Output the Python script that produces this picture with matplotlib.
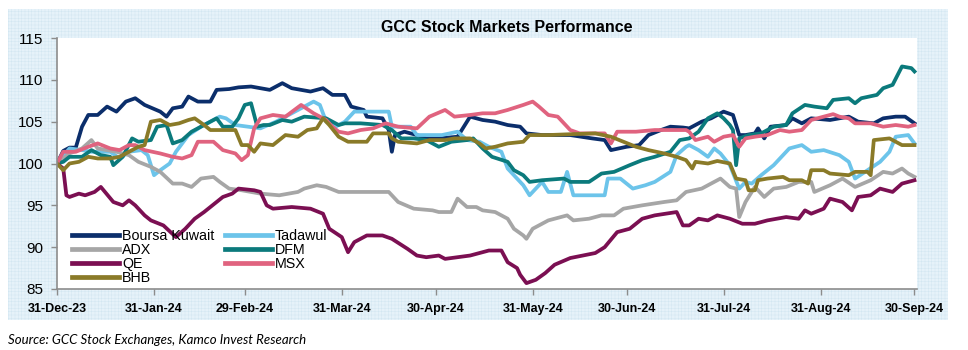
import matplotlib
matplotlib.use("Agg")
import matplotlib.pyplot as plt
import matplotlib.patches as mpatches
import pandas as pd

# ---------------- data (day offsets from 31-Dec-2023, index values) ----------------
bk_days = [0,2,4,6,8,10,13,16,19,22,25,28,33,35,37,40,42,45,49,51,55,58,62,65,68,72,75,81,85,88,92,94,98,99,104,106,107,108,111,115,118,122,128,130,132,136,140,144,148,150,155,164,171,175,177,182,186,189,193,196,200,202,206,209,213,216,218,220,223,224,226,228,233,235,238,241,247,253,256,261,264,268,271,274]
bk_vals = [100,101.5,101.9,101.9,104.4,105.8,105.8,106.8,106.2,107.4,107.8,107.0,106.2,105.6,106.6,106.8,108.0,107.4,107.4,108.8,108.9,109.1,109.2,109.0,108.8,109.6,109.0,108.6,109.0,108.2,108.2,106.8,106.4,105.6,105.4,104.0,101.4,103.4,103.8,103.4,103.0,103.0,103.2,104.4,105.6,105.2,105.0,104.6,104.4,103.6,103.4,103.4,103.0,102.8,101.6,102.0,102.2,103.4,104.0,104.4,104.3,104.2,105.0,105.4,106.2,105.8,103.4,103.4,103.6,104.2,103.0,104.4,104.6,105.4,104.8,105.4,105.2,105.6,105.0,104.8,105.4,105.6,105.6,104.8]

td_days = [0,4,8,11,17,20,23,27,29,31,33,36,38,42,46,52,54,57,61,65,70,75,78,82,84,86,89,92,95,100,106,107,113,115,123,128,131,135,138,142,144,149,151,155,157,161,163,165,175,176,180,184,188,191,196,198,201,202,205,208,210,212,215,218,220,222,225,229,232,234,238,241,245,250,253,255,259,263,266,268,272,274]
td_vals = [100,101.8,101.6,101.4,101.4,100.6,101.4,101.6,101.0,98.6,99.2,100.0,101.4,103.4,104.4,105.6,105.4,104.6,104.4,104.2,105.0,106.0,106.6,107.4,107.0,105.0,104.4,105.0,106.2,106.2,106.2,104.4,104.4,103.4,103.4,103.8,102.8,102.6,102.0,101.4,99.4,97.4,96.2,97.8,96.6,96.6,99.0,96.2,96.2,98.2,98.2,97.0,97.4,97.8,99.0,101.0,102.0,102.2,101.6,100.8,101.8,101.2,99.8,97.0,97.8,97.6,98.6,99.8,101.0,101.8,102.2,101.4,101.6,101.0,100.2,98.2,99.2,100.2,101.4,103.2,103.4,102.4]

adx_days = [0,4,8,11,13,19,23,26,30,33,37,40,43,46,50,52,55,59,65,71,77,79,83,86,90,106,109,114,120,122,126,128,131,134,136,140,144,146,149,150,152,155,157,163,165,170,174,178,181,187,194,198,201,206,209,212,215,217,218,220,223,226,229,233,237,241,242,247,251,255,260,264,267,270,272,274]
adx_vals = [100,101.2,101.8,102.8,101.8,101.4,101.0,100.2,99.6,99.0,97.6,97.6,97.2,98.2,98.4,97.8,97.0,96.8,96.4,96.2,96.6,97.0,97.4,97.2,96.6,96.6,95.4,94.6,94.4,94.2,94.2,95.8,94.8,94.8,94.4,94.2,93.4,92.2,91.4,91.0,92.2,92.8,93.2,93.8,93.2,93.4,93.8,93.8,94.6,95.0,95.4,95.6,96.6,97.0,97.6,98.2,97.2,97.0,93.6,95.4,97.2,96.0,97.0,97.2,97.8,97.8,96.6,97.4,98.2,97.2,98.0,99.0,98.8,99.4,98.8,98.4]

dfm_days = [0,2,4,8,11,14,17,18,21,24,26,30,32,35,37,40,43,47,51,53,56,58,60,62,64,66,68,72,75,79,86,90,92,97,104,107,110,114,118,122,126,131,133,136,139,144,146,149,151,155,162,164,170,174,178,183,187,191,196,199,202,205,208,211,213,215,216,217,218,221,225,229,233,235,239,242,246,248,253,255,257,262,264,267,270,273,274]
dfm_vals = [100,100.2,100.8,100.8,101.6,101.0,100.8,99.8,100.8,103.0,102.6,102.8,104.4,104.6,102.4,102.8,103.8,104.6,105.4,104.4,104.4,105.4,107.0,107.2,104.4,104.6,104.6,105.2,105.0,105.6,105.4,104.6,104.8,104.8,104.6,104.0,103.0,103.0,102.8,102.0,102.6,102.8,103.0,101.8,100.8,100.2,99.2,98.6,97.8,98.0,98.2,97.8,97.8,98.8,99.0,99.8,100.4,100.8,101.4,102.8,103.0,103.8,105.4,106.0,105.4,104.6,104.0,99.8,103.0,103.4,103.6,104.4,104.6,106.0,107.0,106.8,106.6,107.6,107.8,107.2,107.8,108.2,109.0,109.4,111.6,111.4,111.0]

qe_days = [0,2,3,4,7,9,12,14,18,21,23,25,28,30,34,38,41,44,47,51,53,56,58,63,65,67,69,75,81,85,87,91,93,95,99,104,107,112,115,118,122,124,128,132,136,138,142,144,147,148,150,153,156,159,164,168,172,175,179,183,187,191,198,200,202,205,208,211,215,219,223,227,233,237,239,241,245,247,251,254,256,260,263,267,270,274]
qe_vals = [100,99.4,96.2,96.0,96.4,96.2,96.6,97.2,95.4,95.0,95.6,95.0,93.8,93.2,92.6,91.2,92.2,93.4,94.2,95.4,96.0,96.4,97.0,96.8,96.6,95.0,94.6,94.8,94.6,94.0,92.2,91.2,89.4,90.6,91.4,91.4,91.0,89.8,89.0,88.8,89.0,88.6,88.8,89.0,89.4,89.6,89.6,88.2,87.5,86.7,85.7,86.1,86.9,87.9,88.7,89.0,89.3,90.0,91.8,92.2,93.4,93.8,94.2,92.6,92.6,93.4,93.2,93.8,93.4,92.8,92.8,93.2,93.6,93.4,94.4,94.0,94.6,95.8,95.4,94.4,96.0,96.2,97.0,96.6,97.6,98.0]

msx_days = [0,2,6,10,13,17,20,23,25,28,33,37,40,43,45,50,53,57,59,61,63,65,69,73,78,82,86,88,90,93,97,101,105,109,115,119,124,127,132,136,140,144,149,152,154,157,160,164,167,175,177,179,185,191,201,202,204,208,210,213,216,218,220,223,227,231,234,238,241,245,248,250,253,255,260,264,268,272,274]
msx_vals = [100,101.4,101.4,102.0,102.4,101.8,101.6,102.2,102.2,101.6,101.2,100.8,100.6,101.0,102.6,102.6,101.6,101.2,100.4,101.0,104.2,105.4,105.8,105.6,107.0,106.0,105.2,104.4,103.8,103.6,104.0,104.2,104.8,104.4,104.2,105.6,106.4,105.6,105.8,106.0,106.0,106.4,107.0,107.4,106.8,105.8,105.6,104.0,103.6,103.6,102.4,103.8,103.8,104.0,104.0,103.8,102.8,103.2,102.6,103.2,103.4,102.0,103.0,103.2,103.4,104.0,103.8,104.0,105.2,105.6,105.9,105.6,105.4,104.8,104.8,104.4,104.6,104.4,104.6]

bhb_days = [0,2,4,7,10,13,17,20,23,26,28,30,33,36,39,42,44,47,49,57,59,61,63,65,69,73,77,80,83,85,87,90,93,99,101,106,107,109,115,119,124,127,132,135,137,140,144,149,151,157,164,172,177,181,185,189,194,198,201,203,204,208,211,215,217,220,221,223,224,227,232,234,238,240,241,245,247,253,255,259,260,261,266,268,270,274]
bhb_vals = [100,99.2,100.0,100.2,100.8,100.6,100.6,100.8,101.4,102.0,102.2,105.0,105.2,104.6,104.8,105.2,105.4,104.6,104.0,104.0,102.2,102.2,101.4,102.4,102.2,103.4,103.2,104.0,104.2,105.4,104.6,103.2,102.6,102.6,103.6,103.6,103.0,102.6,102.4,102.8,102.8,103.0,103.0,102.4,101.8,102.0,102.4,102.6,103.4,103.4,103.5,103.6,103.2,102.6,102.0,101.6,101.2,100.8,100.4,99.4,100.2,100.0,100.3,100.0,98.2,98.0,96.8,96.8,98.0,98.2,98.4,98.0,98.0,97.6,99.2,99.2,98.8,98.6,99.0,99.0,98.6,102.8,103.0,102.6,102.2,102.2]

series_names = ["Boursa Kuwait", "Tadawul", "ADX", "DFM", "QE", "MSX", "BHB"]
series_colors = ["#0b2e6b", "#6cc4ea", "#a6a6a6", "#0b7a7c", "#7b0f52", "#e0637f", "#8a7a28"]

tick_dates = ["2023-12-31", "2024-01-31", "2024-02-29", "2024-03-31", "2024-04-30",
              "2024-05-31", "2024-06-30", "2024-07-31", "2024-08-31", "2024-09-30"]
tick_labels = ["31-Dec-23", "31-Jan-24", "29-Feb-24", "31-Mar-24", "30-Apr-24",
               "31-May-24", "30-Jun-24", "31-Jul-24", "31-Aug-24", "30-Sep-24"]
y_ticks = [85, 90, 95, 100, 105, 110, 115]

title_text = "GCC Stock Markets Performance"
source_text = "Source: GCC Stock Exchanges, Kamco Invest Research"

# ---------------- figure ----------------
W, H = 968, 350
plt.rcParams["hatch.linewidth"] = 0.35
fig = plt.figure(figsize=(W / 100, H / 100), dpi=100)

# patterned light-blue panel
panel = mpatches.Rectangle((8 / W, 1 - 320 / H), 940 / W, 311 / H,
                           transform=fig.transFigure, facecolor="#e6f2f9",
                           edgecolor="#d3e7f1", hatch="+++++", linewidth=0,
                           zorder=-10)
fig.add_artist(panel)

ax = fig.add_axes([57 / W, 1 - 289 / H, (917 - 57) / W, (289 - 38) / H])
ax.set_facecolor("white")

start = pd.Timestamp("2023-12-31")
all_days = [bk_days, td_days, adx_days, dfm_days, qe_days, msx_days, bhb_days]
all_vals = [bk_vals, td_vals, adx_vals, dfm_vals, qe_vals, msx_vals, bhb_vals]
lines = []
for name, col, d, v in zip(series_names, series_colors, all_days, all_vals):
    dates = start + pd.to_timedelta(d, unit="D")
    ln, = ax.plot(dates, v, color=col, lw=2.7, label=name, solid_joinstyle="round")
    lines.append(ln)

ax.set_ylim(85, 115)
ax.set_yticks(y_ticks)
ax.set_xlim(pd.Timestamp("2023-12-31"), pd.Timestamp("2024-09-30") + pd.Timedelta(days=0.8))
ax.set_xticks(pd.to_datetime(tick_dates))
ax.set_xticklabels(tick_labels, fontfamily="Liberation Sans", fontweight="bold", fontsize=9)
for lab in ax.get_yticklabels():
    lab.set_fontfamily("Liberation Sans")
    lab.set_fontsize(11)

for s in ["top", "right"]:
    ax.spines[s].set_visible(False)
for s in ["left", "bottom"]:
    ax.spines[s].set_color("#8c8c8c")
    ax.spines[s].set_linewidth(1.2)
ax.tick_params(axis="both", direction="out", length=4, width=1, color="#8c8c8c")
ax.tick_params(axis="y", pad=6)
ax.tick_params(axis="x", pad=6)

order = [0, 2, 4, 6, 1, 3, 5]
leg = ax.legend([lines[i] for i in order], [series_names[i] for i in order],
                ncol=2, loc="lower left", bbox_to_anchor=(0.006, -0.025),
                frameon=False, prop={"family": "Liberation Sans", "size": 10.3},
                handlelength=3.3, handletextpad=0.2, columnspacing=0.7,
                labelspacing=0.0, borderpad=0.2)
for lh in leg.get_lines():
    lh.set_linewidth(3.4)

fig.text(507 / W, 1 - 27 / H, title_text, ha="center", va="center",
         fontfamily="Liberation Sans", fontweight="bold", fontsize=11.5)
fig.text(8 / W, 1 - 340 / H, source_text, ha="left", va="center",
         fontfamily="Lato", fontstyle="italic", fontsize=9.5)

fig.savefig("out.png", dpi=100)
